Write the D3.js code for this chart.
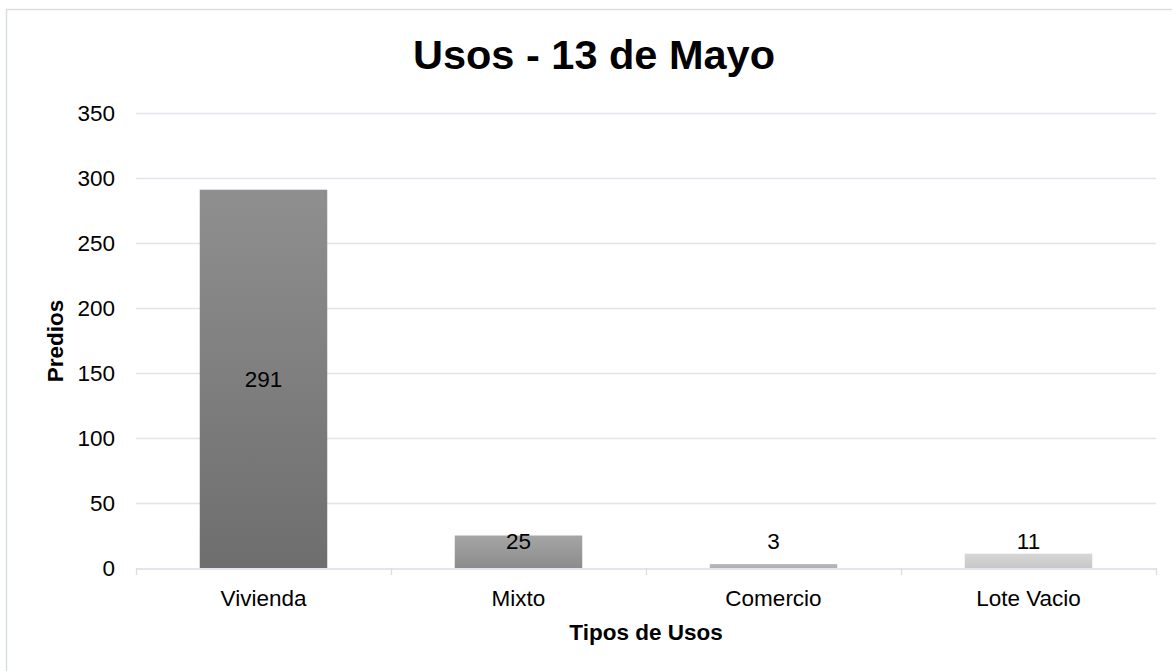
<!DOCTYPE html>
<html>
<head>
<meta charset="utf-8">
<script src="https://cdn.jsdelivr.net/npm/d3@7"></script>
<style>
  html, body { margin: 0; padding: 0; background: #fff; }
  svg { display: block; font-family: "Liberation Sans", Arial, sans-serif; }
</style>
</head>
<body>
<svg id="chart" width="1172" height="671"></svg>
<script>
const categories = ["Vivienda", "Mixto", "Comercio", "Lote Vacio"];
const values = [291, 25, 3, 11];
const yTicks = [0, 50, 100, 150, 200, 250, 300, 350];
const barTop = ["#8f8f8f", "#a5a5a5", "#b7b7b7", "#d6d6d6"];
const barBottom = ["#6e6e6e", "#8c8c8c", "#b0b0b0", "#c8c8c8"];
const titleText = "Usos - 13 de Mayo";
const xTitle = "Tipos de Usos";
const yTitle = "Predios";

const svg = d3.select("#chart");
const m = { left: 136, right: 1156, top: 113, bottom: 568 };
const fs = 22.5;

// chart border
svg.append("rect")
  .attr("x", 6.5).attr("y", 9.5)
  .attr("width", 1200).attr("height", 700)
  .attr("fill", "#fff").attr("stroke", "#d9dee6").attr("stroke-width", 1.5);

const x = d3.scaleBand().domain(categories).range([m.left, m.right]).paddingInner(0).paddingOuter(0);
const y = d3.scaleLinear().domain([0, 350]).range([m.bottom, m.top]);

// gridlines
svg.append("g").selectAll("line").data(yTicks.filter(d => d > 0)).join("line")
  .attr("x1", m.left).attr("x2", m.right)
  .attr("y1", d => y(d) + 0.5).attr("y2", d => y(d) + 0.5)
  .attr("stroke", "#e1e4ea").attr("stroke-width", 1.3);

// gradients
const defs = svg.append("defs");
categories.forEach((c, i) => {
  const g = defs.append("linearGradient").attr("id", "g" + i)
    .attr("x1", 0).attr("y1", 0).attr("x2", 0).attr("y2", 1);
  g.append("stop").attr("offset", "0%").attr("stop-color", barTop[i]);
  g.append("stop").attr("offset", "100%").attr("stop-color", barBottom[i]);
});

// bars
const bw = x.bandwidth() * 0.5;
svg.append("g").selectAll("rect").data(values).join("rect")
  .attr("x", (d, i) => x(categories[i]) + (x.bandwidth() - bw) / 2)
  .attr("width", bw)
  .attr("y", d => y(d))
  .attr("height", d => y(0) - y(d))
  .attr("fill", (d, i) => `url(#g${i})`);

// x axis line and ticks
const xAxis = d3.axisBottom(x).tickSize(0).tickFormat("");
const xa = svg.append("g").attr("transform", `translate(0,${m.bottom + 0.5})`).call(xAxis);
xa.select(".domain").attr("stroke", "#d9dde4").attr("stroke-width", 1.5);
xa.selectAll(".tick").remove();
const bounds = categories.map(c => x(c)).concat([m.right]);
svg.append("g").selectAll("line").data(bounds).join("line")
  .attr("x1", d => d + 0.5).attr("x2", d => d + 0.5)
  .attr("y1", m.bottom).attr("y2", m.bottom + 7)
  .attr("stroke", "#d9dde4").attr("stroke-width", 1.3);

// category labels
svg.append("g").selectAll("text").data(categories).join("text")
  .attr("x", d => x(d) + x.bandwidth() / 2)
  .attr("y", 606)
  .attr("text-anchor", "middle")
  .attr("font-size", fs)
  .attr("fill", "#000")
  .text(d => d);

// y tick labels
svg.append("g").selectAll("text").data(yTicks).join("text")
  .attr("x", 115)
  .attr("y", d => y(d))
  .attr("dy", "0.36em")
  .attr("text-anchor", "end")
  .attr("font-size", fs)
  .attr("fill", "#000")
  .text(d => d);

// data labels
svg.append("g").selectAll("text").data(values).join("text")
  .attr("x", (d, i) => x(categories[i]) + x.bandwidth() / 2)
  .attr("y", d => Math.min((y(d) + y(0)) / 2, y(0) - 27))
  .attr("dy", "0.36em")
  .attr("text-anchor", "middle")
  .attr("font-size", fs)
  .attr("fill", "#000")
  .text(d => d);

// title
svg.append("text")
  .attr("x", 594).attr("y", 69)
  .attr("text-anchor", "middle")
  .attr("font-size", 41.5).attr("font-weight", "bold")
  .attr("fill", "#000")
  .text(titleText);

// axis titles
svg.append("text")
  .attr("x", 646).attr("y", 640)
  .attr("text-anchor", "middle")
  .attr("font-size", fs).attr("font-weight", "bold")
  .text(xTitle);

svg.append("text")
  .attr("transform", "translate(63,341) rotate(-90)")
  .attr("text-anchor", "middle")
  .attr("font-size", fs).attr("font-weight", "bold")
  .text(yTitle);
</script>
</body>
</html>
